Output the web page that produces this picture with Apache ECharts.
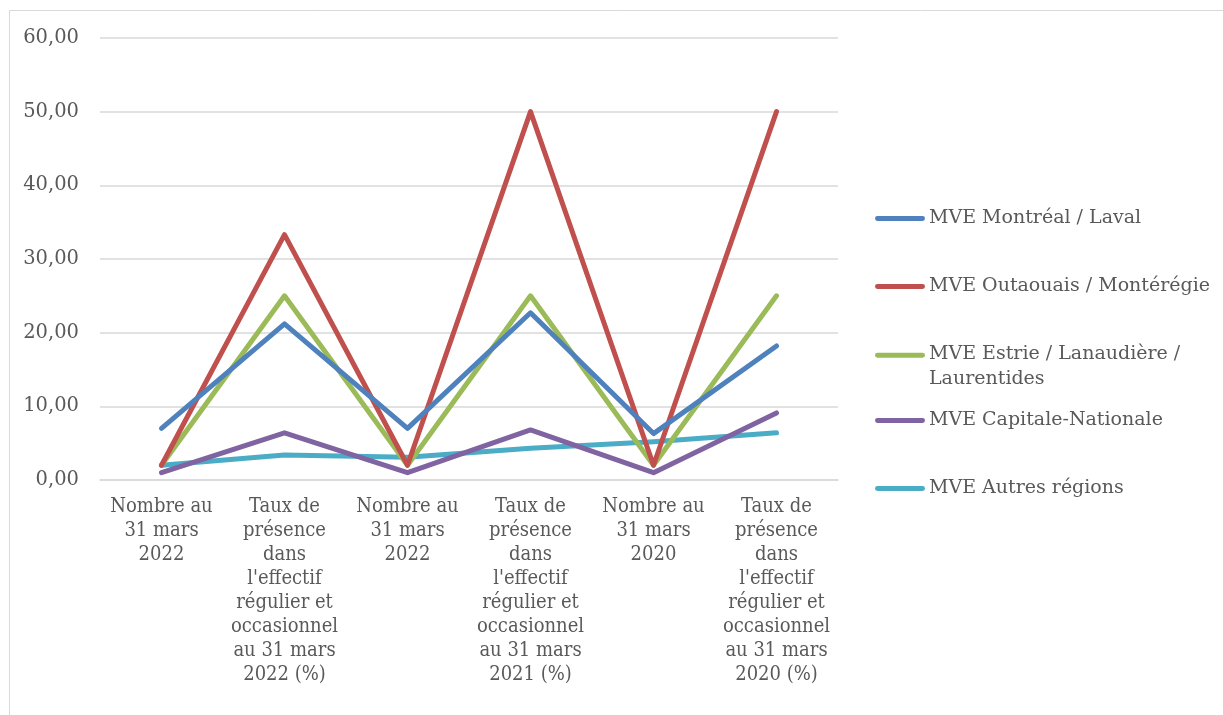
<!DOCTYPE html>
<html>
<head>
<meta charset="utf-8">
<script src="https://cdn.jsdelivr.net/npm/echarts@6/dist/echarts.min.js"></script>
<style>
  html, body { margin: 0; padding: 0; background: #ffffff; }
  #chart { width: 1223px; height: 715px; }
</style>
</head>
<body>
<div id="chart"></div>
<script>
// Category labels (line breaks as shown under the axis)
const categories = [
  "Nombre au\n31 mars\n2022",
  "Taux de\nprésence\ndans\nl'effectif\nrégulier et\noccasionnel\nau 31 mars\n2022 (%)",
  "Nombre au\n31 mars\n2022",
  "Taux de\nprésence\ndans\nl'effectif\nrégulier et\noccasionnel\nau 31 mars\n2021 (%)",
  "Nombre au\n31 mars\n2020",
  "Taux de\nprésence\ndans\nl'effectif\nrégulier et\noccasionnel\nau 31 mars\n2020 (%)"
];

const seriesNames = [
  "MVE Montréal / Laval",
  "MVE Outaouais / Montérégie",
  "MVE Estrie / Lanaudière / Laurentides",
  "MVE Capitale-Nationale",
  "MVE Autres régions"
];

const montrealLaval      = [7, 21.2, 7, 22.7, 6.3, 18.2];
const outaouaisMonteregie = [2, 33.3, 2, 50, 2, 50];
const estrieLanaudiere   = [2, 25, 2, 25, 2, 25];
const capitaleNationale  = [1, 6.4, 1, 6.8, 1, 9.1];
const autresRegions      = [2, 3.4, 3.1, 4.3, 5.2, 6.4];

const colors = ["#4F81BD", "#C0504D", "#9BBB59", "#8064A2", "#4BACC6"];
const values = [montrealLaval, outaouaisMonteregie, estrieLanaudiere, capitaleNationale, autresRegions];

const yMin = 0, yMax = 60, yStep = 10;

const serifFont = "'DejaVu Serif Condensed', 'DejaVu Serif', serif";
const labelColor = "#595959";

const chart = echarts.init(document.getElementById('chart'));

// One legend block per series so each entry sits at its own height
const legendTops = [206, 274, 342, 408, 476];
const barIcon = 'path://M2,0 L48,0 A2.5,2.5 0 0 1 48,5 L2,5 A2.5,2.5 0 0 1 2,0 Z';
const tallIcon = 'path://M2,0 L48,0 A2.5,2.5 0 0 1 48,5 L2,5 A2.5,2.5 0 0 1 2,0 Z M0,29 L0.01,29';
const legends = seriesNames.map((name, i) => {
  const tall = i === 2;
  return {
    orient: 'vertical',
    left: 875,
    top: legendTops[i],
    padding: 0,
    itemWidth: 50,
    itemHeight: tall ? 29 : 5,
    icon: tall ? tallIcon : barIcon,
    data: [{ name: name, icon: tall ? tallIcon : barIcon, itemStyle: { color: colors[i] } }],
    formatter: n => tall ? 'MVE Estrie / Lanaudière /\nLaurentides' : n,
    textStyle: { fontFamily: "'DejaVu Serif', serif", fontSize: 19, color: labelColor, lineHeight: 25, padding: [0, 0, 0, -1] }
  };
});

chart.setOption({
  animation: false,
  color: colors,
  graphic: [{
    type: 'rect',
    shape: { x: 9.5, y: 10.5, width: 1400, height: 900 },
    style: { fill: 'none', stroke: '#D9D9D9', lineWidth: 1 },
    silent: true
  }],
  legend: legends,
  grid: { left: 100, right: 385, top: 38, bottom: 235, containLabel: false },
  xAxis: {
    type: 'category',
    data: categories,
    boundaryGap: true,
    axisLine: { lineStyle: { color: '#D9D9D9', width: 1.5 } },
    axisTick: { show: false },
    axisLabel: {
      interval: 0,
      margin: 15,
      fontFamily: serifFont,
      fontSize: 20,
      lineHeight: 24,
      color: labelColor,
      align: 'center'
    }
  },
  yAxis: {
    type: 'value',
    min: yMin,
    max: yMax,
    interval: yStep,
    axisLine: { show: false },
    axisTick: { show: false },
    splitLine: { lineStyle: { color: '#D9D9D9', width: 1.5 } },
    axisLabel: {
      margin: 21,
      fontFamily: "'DejaVu Serif', serif",
      fontSize: 19.5,
      color: labelColor,
      formatter: v => v.toFixed(2).replace('.', ',')
    }
  },
  series: seriesNames.map((name, i) => ({
    name: name,
    type: 'line',
    data: values[i],
    showSymbol: false,
    symbol: 'none',
    lineStyle: { color: colors[i], width: 5, cap: 'round', join: 'round' },
    itemStyle: { color: colors[i] },
    z: 2 + (4 - i)
  }))
});
</script>
</body>
</html>
